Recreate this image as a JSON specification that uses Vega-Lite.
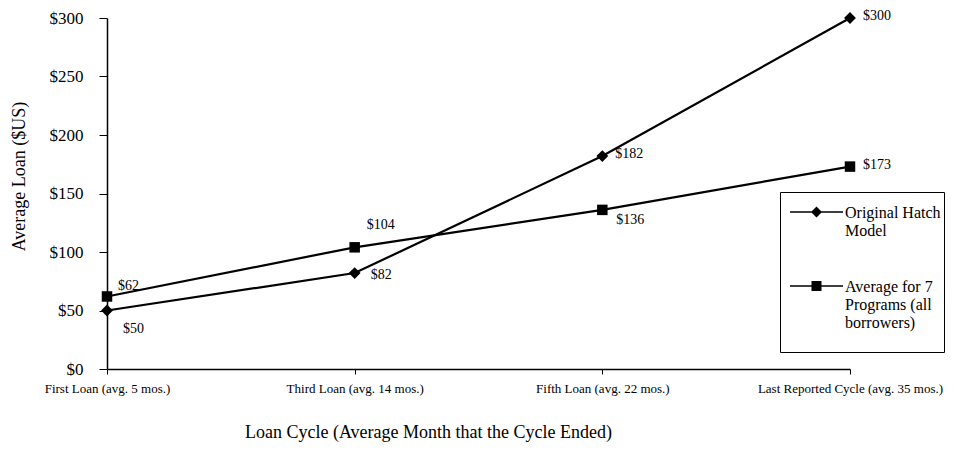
{
  "$schema": "https://vega.github.io/schema/vega-lite/v6.json",
  "width": 743,
  "height": 351,
  "autosize": {"type": "none"},
  "padding": {"left": 107, "top": 18, "right": 120, "bottom": 94},
  "background": "white",
  "config": {
    "view": {"stroke": null},
    "font": "Liberation Serif"
  },
  "data": {
    "values": [
      {"cycle": "First Loan (avg. 5 mos.)", "series": "Original Hatch Model", "value": 50},
      {"cycle": "Third Loan (avg. 14 mos.)", "series": "Original Hatch Model", "value": 82},
      {"cycle": "Fifth Loan (avg. 22 mos.)", "series": "Original Hatch Model", "value": 182},
      {"cycle": "Last Reported Cycle (avg. 35 mos.)", "series": "Original Hatch Model", "value": 300},
      {"cycle": "First Loan (avg. 5 mos.)", "series": "Average for 7 Programs (all borrowers)", "value": 62},
      {"cycle": "Third Loan (avg. 14 mos.)", "series": "Average for 7 Programs (all borrowers)", "value": 104},
      {"cycle": "Fifth Loan (avg. 22 mos.)", "series": "Average for 7 Programs (all borrowers)", "value": 136},
      {"cycle": "Last Reported Cycle (avg. 35 mos.)", "series": "Average for 7 Programs (all borrowers)", "value": 173}
    ]
  },
  "encoding": {
    "x": {
      "field": "cycle", "type": "ordinal", "sort": null,
      "scale": {"type": "point", "padding": 0},
      "axis": {
        "labelAngle": 0, "labelFont": "Liberation Serif", "labelFontSize": 13, "labelColor": "black",
        "labelPadding": 8, "labelLimit": 300, "tickSize": 5, "tickColor": "black", "domainColor": "black", "domainWidth": 1.5,
        "grid": false,
        "title": "Loan Cycle (Average Month that the Cycle Ended)",
        "titleFont": "Liberation Serif", "titleFontSize": 18, "titleFontWeight": "normal", "titleColor": "black",
        "titleX": 321, "titleY": 54, "titleAnchor": "middle", "titleBaseline": "top"
      }
    },
    "y": {
      "field": "value", "type": "quantitative",
      "scale": {"domain": [0, 300]},
      "axis": {
        "values": [0, 50, 100, 150, 200, 250, 300],
        "labelExpr": "'$' + datum.value",
        "labelFont": "Liberation Serif", "labelFontSize": 17, "labelColor": "black", "labelPadding": 16,
        "tickSize": 8, "tickColor": "black", "domainColor": "black", "domainWidth": 1.5,
        "grid": false,
        "title": "Average Loan ($US)",
        "titleFont": "Liberation Serif", "titleFontSize": 18, "titleFontWeight": "normal", "titleColor": "black",
        "titleX": -79, "titleY": 158
      }
    }
  },
  "layer": [
    {
      "mark": {"type": "line", "color": "black", "strokeWidth": 2.2},
      "encoding": {"detail": {"field": "series"}}
    },
    {
      "transform": [{"filter": "datum.series == 'Original Hatch Model'"}],
      "mark": {"type": "point", "shape": "diamond", "filled": true, "color": "black", "opacity": 1, "size": 140}
    },
    {
      "transform": [{"filter": "datum.series != 'Original Hatch Model'"}],
      "mark": {"type": "point", "shape": "square", "filled": true, "color": "black", "opacity": 1, "size": 110}
    },
    {
      "mark": {"type": "point", "filled": true, "fill": "black", "opacity": 0},
      "encoding": {
        "shape": {
          "field": "series", "type": "nominal",
          "scale": {
            "domain": ["Original Hatch Model", "Average for 7 Programs (all borrowers)"],
            "range": ["M-0.3,0.62H5V0.78H-0.3ZM2.35,0.15L2.9,0.7L2.35,1.25L1.8,0.7Z", "M-0.3,0.62H5V0.78H-0.3ZM1.85,0.2H2.85V1.2H1.85Z"]
          },
          "legend": {
            "orient": "none", "legendX": 673, "legendY": 174,
            "title": null,
            "strokeColor": "black", "fillColor": "white", "padding": 3,
            "symbolSize": 400, "symbolStrokeWidth": 0, "symbolFillColor": "black", "symbolOpacity": 1,
            "labelFont": "Liberation Serif", "labelFontSize": 16, "labelColor": "black", "labelOffset": 42,
            "labelLimit": 200,
            "rowPadding": 30,
            "labelBaseline": "top",
            "labelExpr": "datum.label == 'Original Hatch Model' ? ['Original Hatch', 'Model'] : ['Average for 7', 'Programs (all', 'borrowers)', ' ']"
          }
        }
      }
    },
    {
      "transform": [{"filter": "datum.value == 300 || datum.value == 173 || datum.value == 182"}],
      "mark": {"type": "text", "align": "left", "baseline": "middle", "dx": 13, "dy": -2, "fontSize": 14, "font": "Liberation Serif", "color": "black"},
      "encoding": {"text": {"field": "value", "type": "quantitative", "format": "$d"}}
    },
    {
      "transform": [{"filter": "datum.value == 82"}],
      "mark": {"type": "text", "align": "left", "baseline": "middle", "dx": 16, "dy": 2, "fontSize": 14, "font": "Liberation Serif", "color": "black"},
      "encoding": {"text": {"field": "value", "type": "quantitative", "format": "$d"}}
    },
    {
      "transform": [{"filter": "datum.value == 136"}],
      "mark": {"type": "text", "align": "left", "baseline": "middle", "dx": 14, "dy": 10, "fontSize": 14, "font": "Liberation Serif", "color": "black"},
      "encoding": {"text": {"field": "value", "type": "quantitative", "format": "$d"}}
    },
    {
      "transform": [{"filter": "datum.value == 50"}],
      "mark": {"type": "text", "align": "left", "baseline": "middle", "dx": 16, "dy": 18, "fontSize": 14, "font": "Liberation Serif", "color": "black"},
      "encoding": {"text": {"field": "value", "type": "quantitative", "format": "$d"}}
    },
    {
      "transform": [{"filter": "datum.value == 104"}],
      "mark": {"type": "text", "align": "left", "baseline": "middle", "dx": 12, "dy": -22, "fontSize": 14, "font": "Liberation Serif", "color": "black"},
      "encoding": {"text": {"field": "value", "type": "quantitative", "format": "$d"}}
    },
    {
      "transform": [{"filter": "datum.value == 62"}],
      "mark": {"type": "text", "align": "left", "baseline": "middle", "dx": 11, "dy": -10, "fontSize": 14, "font": "Liberation Serif", "color": "black"},
      "encoding": {"text": {"field": "value", "type": "quantitative", "format": "$d"}}
    }
  ]
}
